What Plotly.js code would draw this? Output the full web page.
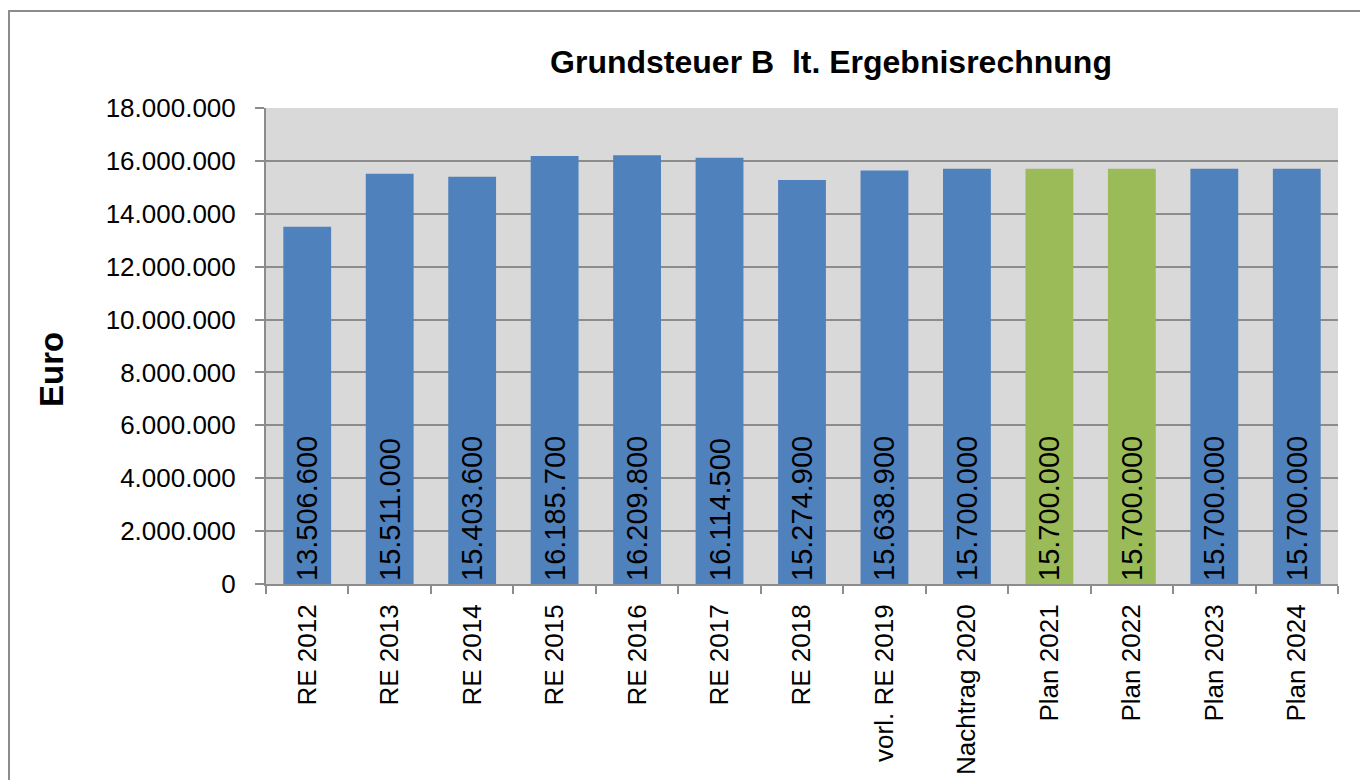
<!DOCTYPE html>
<html>
<head>
<meta charset="utf-8">
<script src="https://cdn.plot.ly/plotly-3.0.1.min.js"></script>
<style>
html,body{margin:0;padding:0;background:#fff;}
#frame{position:absolute;left:8px;top:10px;width:1400px;height:800px;border:2px solid #8c8c8c;box-sizing:border-box;pointer-events:none;z-index:2;}
#chart{position:absolute;left:0;top:0;width:1360px;height:780px;}
</style>
</head>
<body>
<div id="chart"></div>
<div id="frame"></div>
<script>
const categories = ["RE 2012","RE 2013","RE 2014","RE 2015","RE 2016","RE 2017","RE 2018","vorl. RE 2019","Nachtrag 2020","Plan 2021","Plan 2022","Plan 2023","Plan 2024"];
const values = [13506600,15511000,15403600,16185700,16209800,16114500,15274900,15638900,15700000,15700000,15700000,15700000,15700000];
const valueLabels = ["13.506.600","15.511.000","15.403.600","16.185.700","16.209.800","16.114.500","15.274.900","15.638.900","15.700.000","15.700.000","15.700.000","15.700.000","15.700.000"];
const barColors = ["#4f81bd","#4f81bd","#4f81bd","#4f81bd","#4f81bd","#4f81bd","#4f81bd","#4f81bd","#4f81bd","#9bbb59","#9bbb59","#4f81bd","#4f81bd"];
const yTickVals = [0,2000000,4000000,6000000,8000000,10000000,12000000,14000000,16000000,18000000];
const yTickText = ["0","2.000.000","4.000.000","6.000.000","8.000.000","10.000.000","12.000.000","14.000.000","16.000.000","18.000.000"];
const chartTitle = "Grundsteuer B&nbsp; lt. Ergebnisrechnung";
const yTitle = "Euro";

const fam = "Liberation Sans, Arial, sans-serif";

const L = 266, R = 1338, T = 108, B = 584;
const pw = R - L, ph = B - T;

Plotly.newPlot('chart', [{
  type: 'bar',
  x: categories,
  y: values,
  text: valueLabels,
  texttemplate: '%{text}',
  textposition: 'inside',
  insidetextanchor: 'start',
  textangle: -90,
  textfont: {family: fam, size: 29, color: '#000'},
  constraintext: 'none',
  marker: {color: barColors, line: {width: 0}},
  hoverinfo: 'none'
}], {
  width: 1360, height: 780,
  margin: {l: L, r: 1360 - R, t: T, b: 780 - B},
  paper_bgcolor: '#ffffff',
  plot_bgcolor: '#d9d9d9',
  bargap: 0.42,
  showlegend: false,
  font: {family: fam, color: '#000'},
  xaxis: {
    type: 'category',
    tickangle: -90,
    ticks: 'outside', ticklen: 8, tickwidth: 2, tickcolor: '#8c8c8c',
    tickson: 'boundaries',
    showline: true, linecolor: '#8c8c8c', linewidth: 2,
    showgrid: false,
    tickfont: {family: fam, size: 26, color: '#000'},
    ticklabelstandoff: 8,
    fixedrange: true
  },
  yaxis: {
    range: [0, 18000000],
    tickvals: yTickVals, ticktext: yTickText,
    ticks: 'outside', ticklen: 9, tickwidth: 2, tickcolor: '#8c8c8c',
    showline: true, linecolor: '#8c8c8c', linewidth: 2,
    showgrid: true, gridcolor: '#8c8c8c', gridwidth: 2,
    zeroline: false,
    tickfont: {family: fam, size: 26, color: '#000'},
    ticklabelstandoff: 14,
    fixedrange: true
  },
  title: {
    text: '<b>' + chartTitle + '</b>',
    font: {family: fam, size: 32, color: '#000'},
    xref: 'paper', x: (831 - L) / pw, xanchor: 'center',
    yref: 'container', y: 1 - 62 / 780, yanchor: 'middle'
  },
  annotations: [{
    text: '<b>' + yTitle + '</b>',
    xref: 'paper', yref: 'paper',
    x: (51 - L) / pw, y: (B - 370) / ph,
    xanchor: 'center', yanchor: 'middle',
    textangle: -90, showarrow: false,
    font: {family: fam, size: 33, color: '#000'}
  }]
}, {displayModeBar: false, staticPlot: true});
</script>
</body>
</html>
